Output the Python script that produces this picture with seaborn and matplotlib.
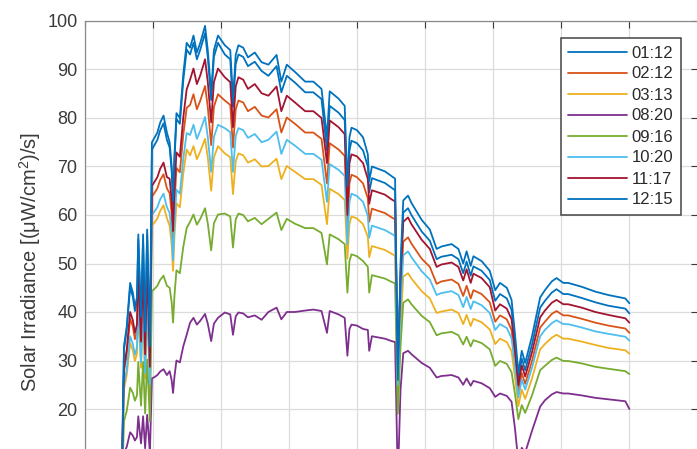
import matplotlib
matplotlib.use("Agg")
import matplotlib.pyplot as plt
import seaborn as sns
import pandas as pd

# ---------------- data ----------------
wavelength = [355, 358, 362, 367, 371, 374, 377, 379, 381, 383, 386, 389, 392, 394, 396,
              399, 403, 407, 411, 416, 421,
              425, 428, 430, 432, 435, 440, 445, 450,
              455, 460, 465, 470, 477, 481, 486, 490, 496,
              506, 514, 518, 522, 526, 533, 540, 550, 560,
              570, 582, 589, 597, 609, 624, 636, 648,
              656, 660, 673, 682, 686, 689, 692, 700, 709, 716, 718, 722, 741, 751, 756,
              760, 764, 768, 775, 780, 795, 807, 817, 824, 839, 849, 856, 861, 867, 871, 883, 895,
              903, 910, 920, 927, 932, 937, 942, 947, 957, 969, 976, 986, 993, 1003, 1010, 1030,
              1050, 1069, 1094, 1100]

t_0112 = [7.8, 32.3, 36.3, 45.1, 43.1, 40.2, 42.1, 54.9, 46.1, 38.2, 54.9, 35.3, 55.9, 44.1, 32.3,
          73.5, 74.5, 75.5, 77.4, 78.9, 75.5,
          73.9, 69.0, 62.1, 70.9, 79.8, 78.8, 87.7, 94.1,
          93.1, 95.5, 92.1, 94.1, 97.5, 92.6, 83.7, 92.6, 95.5,
          93.1, 92.1, 82.3, 91.1, 93.1, 92.6, 90.7, 91.6, 89.7,
          88.7, 90.7, 85.3, 88.7, 87.3, 85.3, 85.3, 83.9,
          73.3, 82.5, 81.1, 79.6, 64.0, 73.3, 75.3, 74.8, 73.3, 70.0, 64.7, 67.6, 66.6, 65.6, 65.1,
          26.0, 48.0, 60.5, 61.4, 60.0, 56.6, 54.7, 50.9, 51.4, 51.8, 50.9, 48.0, 50.4, 47.5, 49.4, 48.5, 46.6,
          42.3, 43.7, 42.8, 40.4, 33.7, 26.1, 30.4, 28.0, 33.3, 40.9, 42.3, 44.0, 44.7, 43.7, 43.7, 42.9,
          42.0, 41.3, 40.7, 39.7]

t_0212 = [6.7, 27.7, 31.1, 38.6, 37.0, 34.4, 36.1, 47.0, 39.5, 32.8, 47.0, 30.2, 47.9, 37.8, 27.7,
          63.8, 64.6, 65.5, 67.2, 68.4, 65.5,
          64.5, 60.2, 54.2, 61.9, 69.7, 68.8, 76.5, 82.1,
          82.7, 84.9, 81.8, 83.6, 86.6, 82.3, 74.4, 82.3, 84.9,
          83.6, 82.7, 73.9, 81.8, 83.6, 83.2, 81.4, 82.3, 80.5,
          80.1, 81.8, 77.0, 80.1, 78.8, 77.0, 77.0, 75.7,
          66.5, 74.8, 73.5, 72.2, 57.0, 66.5, 68.3, 67.8, 66.5, 63.4, 58.6, 61.3, 60.4, 59.5, 59.1,
          27.0, 43.0, 54.5, 55.4, 54.1, 51.0, 49.3, 45.8, 46.3, 46.7, 45.8, 43.3, 45.4, 42.8, 44.5, 43.7, 42.0,
          38.0, 39.3, 38.5, 36.3, 30.4, 23.5, 27.4, 25.2, 29.9, 36.8, 38.0, 39.6, 40.2, 39.3, 39.3, 38.6,
          37.8, 37.2, 36.6, 35.7]

t_0313 = [5.8, 24.1, 27.0, 33.6, 32.1, 29.9, 31.4, 40.9, 34.3, 28.5, 40.9, 26.3, 41.6, 32.9, 24.1,
          57.8, 58.5, 59.3, 60.8, 62.0, 59.3,
          57.8, 53.9, 48.5, 55.4, 62.4, 61.6, 68.5, 73.5,
          72.3, 74.2, 71.5, 73.1, 75.7, 71.9, 65.0, 71.9, 74.2,
          72.7, 71.9, 64.3, 71.1, 72.7, 72.3, 70.8, 71.5, 70.0,
          70.1, 71.6, 67.4, 70.1, 68.9, 67.4, 67.4, 66.2,
          58.1, 65.4, 64.3, 63.1, 51.0, 58.1, 59.7, 59.3, 58.1, 55.5, 51.3, 53.6, 52.8, 52.0, 51.6,
          23.0, 37.5, 47.3, 48.0, 46.9, 44.3, 42.8, 39.8, 40.1, 40.5, 39.8, 37.5, 39.4, 37.1, 38.6, 37.9, 36.4,
          33.4, 34.5, 33.8, 31.9, 26.6, 20.6, 24.0, 22.1, 26.3, 32.3, 33.4, 34.7, 35.3, 34.5, 34.5, 33.9,
          33.2, 32.6, 32.1, 31.4]

t_0820 = [2.6, 10.9, 12.2, 15.2, 14.5, 13.5, 14.2, 18.5, 15.5, 12.9, 18.5, 11.9, 18.8, 14.9, 10.9,
          26.3, 26.6, 27.0, 27.7, 28.2, 27.0,
          27.8, 25.9, 23.3, 26.6, 30.0, 29.6, 32.9, 35.3,
          37.8, 38.8, 37.4, 38.2, 39.6, 37.6, 34.0, 37.6, 38.8,
          39.9, 39.5, 35.3, 39.1, 39.9, 39.7, 38.9, 39.3, 38.4,
          40.0, 40.9, 38.5, 40.0, 40.0, 40.3, 40.5, 40.2,
          35.7, 40.2, 39.5, 38.8, 31.0, 36.5, 37.4, 37.2, 36.5, 36.3, 32.0, 35.0, 34.5, 34.0, 33.8,
          5.0, 24.0, 31.5, 32.0, 31.3, 29.5, 28.5, 26.5, 26.8, 27.0, 26.5, 25.0, 26.3, 24.8, 25.8, 25.3, 24.3,
          22.5, 23.2, 22.7, 21.5, 16.0, 9.0, 12.0, 11.0, 15.5, 20.5, 21.8, 23.0, 23.5, 23.2, 23.2, 22.8,
          22.3, 22.0, 21.6, 20.0]

t_0916 = [4.2, 17.5, 19.6, 24.4, 23.3, 21.7, 22.8, 29.7, 24.9, 20.7, 29.7, 19.1, 30.2, 23.9, 17.5,
          44.3, 44.8, 45.4, 46.6, 47.5, 45.4,
          45.0, 42.0, 37.8, 43.2, 48.6, 48.0, 53.4, 57.3,
          58.6, 60.1, 58.0, 59.2, 61.4, 58.3, 52.7, 58.3, 60.1,
          60.3, 59.7, 53.3, 59.1, 60.3, 60.0, 58.7, 59.4, 58.1,
          59.2, 60.5, 56.9, 59.2, 58.2, 57.3, 57.3, 56.3,
          49.8, 56.0, 55.0, 54.0, 44.0, 50.5, 51.9, 51.5, 50.5, 49.3, 44.0, 47.6, 46.9, 46.2, 45.9,
          19.0, 33.0, 41.9, 42.6, 41.6, 39.2, 37.9, 35.2, 35.6, 35.9, 35.2, 33.3, 34.9, 32.9, 34.2, 33.6, 32.3,
          28.9, 29.9, 29.3, 27.6, 23.1, 17.9, 20.8, 19.2, 22.8, 28.0, 28.9, 30.1, 30.6, 29.9, 29.9, 29.4,
          28.7, 28.3, 27.8, 27.2]

t_1020 = [6.1, 25.1, 28.1, 35.0, 33.4, 31.2, 32.7, 42.6, 35.7, 29.6, 42.6, 27.4, 43.3, 34.2, 25.1,
          60.0, 60.8, 61.6, 63.2, 64.4, 61.6,
          60.4, 56.4, 50.7, 58.0, 65.2, 64.4, 71.6, 76.9,
          76.5, 78.6, 75.7, 77.4, 80.2, 76.1, 68.9, 76.1, 78.6,
          77.9, 77.1, 68.9, 76.3, 77.9, 77.5, 75.9, 76.7, 75.0,
          75.5, 77.2, 72.6, 75.5, 74.3, 72.6, 72.6, 71.4,
          62.7, 70.5, 69.3, 68.1, 54.0, 62.7, 64.4, 63.9, 62.7, 59.8, 55.3, 57.8, 56.9, 56.1, 55.7,
          25.0, 41.0, 51.7, 52.5, 51.3, 48.4, 46.7, 43.5, 43.9, 44.3, 43.5, 41.0, 43.1, 40.6, 42.2, 41.4, 39.8,
          36.3, 37.5, 36.7, 34.6, 28.9, 22.4, 26.1, 24.0, 28.5, 35.0, 36.3, 37.7, 38.3, 37.5, 37.5, 36.8,
          36.0, 35.5, 34.9, 34.1]

t_1117 = [7.0, 28.7, 32.2, 40.0, 38.3, 35.7, 37.4, 48.7, 40.9, 33.9, 48.7, 31.3, 49.6, 39.2, 28.7,
          66.0, 66.9, 67.8, 69.5, 70.8, 67.8,
          67.5, 63.0, 56.7, 64.8, 72.9, 72.0, 80.1, 85.9,
          87.9, 90.2, 87.0, 88.8, 92.1, 87.4, 79.1, 87.4, 90.2,
          88.4, 87.4, 78.1, 86.5, 88.4, 87.9, 86.0, 87.0, 85.1,
          84.6, 86.5, 81.4, 84.6, 83.2, 81.4, 81.4, 80.0,
          70.7, 79.5, 78.1, 76.7, 60.0, 70.7, 72.5, 72.1, 70.7, 67.4, 62.3, 65.1, 64.2, 63.2, 62.8,
          29.0, 46.5, 58.6, 59.5, 58.1, 54.9, 53.0, 49.3, 49.8, 50.2, 49.3, 46.5, 48.8, 46.0, 47.9, 47.0, 45.1,
          40.3, 41.6, 40.7, 38.5, 32.1, 24.9, 29.0, 26.7, 31.7, 38.9, 40.3, 41.9, 42.5, 41.6, 41.6, 40.9,
          40.0, 39.4, 38.7, 37.8]

t_1215 = [8.0, 33.0, 37.0, 46.0, 44.0, 41.0, 43.0, 56.0, 47.0, 39.0, 56.0, 36.0, 57.0, 45.0, 33.0,
          75.0, 76.0, 77.0, 79.0, 80.5, 77.0,
          75.0, 70.0, 63.0, 72.0, 81.0, 80.0, 89.0, 95.5,
          94.5, 97.0, 93.5, 95.5, 99.0, 94.0, 85.0, 94.0, 97.0,
          95.0, 94.0, 84.0, 93.0, 95.0, 94.5, 92.5, 93.5, 91.5,
          91.0, 93.0, 87.5, 91.0, 89.5, 87.5, 87.5, 86.0,
          76.0, 85.5, 84.0, 82.5, 66.0, 76.0, 78.0, 77.5, 76.0, 72.5, 67.0, 70.0, 69.0, 68.0, 67.5,
          26.0, 50.0, 63.0, 64.0, 62.5, 59.0, 57.0, 53.0, 53.5, 54.0, 53.0, 50.0, 52.5, 49.5, 51.5, 50.5, 48.5,
          44.5, 46.0, 45.0, 42.5, 35.5, 27.5, 32.0, 29.5, 35.0, 43.0, 44.5, 46.3, 47.0, 46.0, 46.0, 45.2,
          44.2, 43.5, 42.8, 41.8]

times = ["01:12", "02:12", "03:13", "08:20", "09:16", "10:20", "11:17", "12:15"]
series = [t_0112, t_0212, t_0313, t_0820, t_0916, t_1020, t_1117, t_1215]
colors = ["#0072BD", "#D95319", "#EDB120", "#7E2F8E", "#77AC30", "#4DBEEE", "#A2142F", "#0072BD"]

y_ticks = [20, 30, 40, 50, 60, 70, 80, 90, 100]
x_ticks = [300, 400, 500, 600, 700, 800, 900, 1000, 1100, 1200]

# ---------------- build long table ----------------
frames = []
for name, vals in zip(times, series):
    frames.append(pd.DataFrame({"wavelength": wavelength, "irradiance": vals, "time": name}))
df = pd.concat(frames, ignore_index=True)

# ---------------- plot ----------------
sns.set_style("white")
plt.rcParams["font.family"] = ["Liberation Sans", "DejaVu Sans"]
plt.rcParams["mathtext.fontset"] = "custom"
plt.rcParams["mathtext.rm"] = "Liberation Sans"
plt.rcParams["mathtext.it"] = "Liberation Sans:italic"

W, H = 697, 449
fig = plt.figure(figsize=(W / 100, H / 100), dpi=100)
ax = fig.add_axes([84.5 / W, 1 - 506 / H, 613 / W, 485 / H])

sns.lineplot(data=df, x="wavelength", y="irradiance", hue="time",
             hue_order=times, palette=dict(zip(times, colors)),
             estimator=None, sort=False, linewidth=1.3, ax=ax, legend=True)

ax.set_xlim(300, 1200)
ax.set_ylim(0, 100)
ax.set_xticks(x_ticks)
ax.set_yticks(y_ticks)
ax.grid(True, color="#dcdcdc", linewidth=0.9)
ax.set_axisbelow(True)
for sp in ax.spines.values():
    sp.set_color("#8a8a8a")
    sp.set_linewidth(0.9)
ax.tick_params(direction="in", length=5, width=0.8, top=True, right=True,
               labelsize=13, colors="#3a3a3a", pad=5)
ax.tick_params(axis="x", labelbottom=False)
ax.set_xlabel("")
ax.set_ylabel("Solar Irradiance [(μW/cm$^{2}$)/s]", fontsize=14.5, color="#3a3a3a")
ax.yaxis.set_label_coords(-0.067, 0.503)

handles, labels = ax.get_legend_handles_labels()
leg = ax.legend(handles, labels, loc="upper right",
                bbox_to_anchor=(681 / W, 1 - 38 / H), bbox_transform=fig.transFigure,
                borderaxespad=0, fontsize=12, labelspacing=0.36, handlelength=3.5,
                handletextpad=0.3, borderpad=0.45, fancybox=False, framealpha=1,
                edgecolor="#444444")
leg.get_frame().set_linewidth(1.1)
for h in leg.legend_handles:
    h.set_linewidth(1.3)
for t in leg.get_texts():
    t.set_color("#2a2a2a")

fig.savefig("out.png", dpi=100)
